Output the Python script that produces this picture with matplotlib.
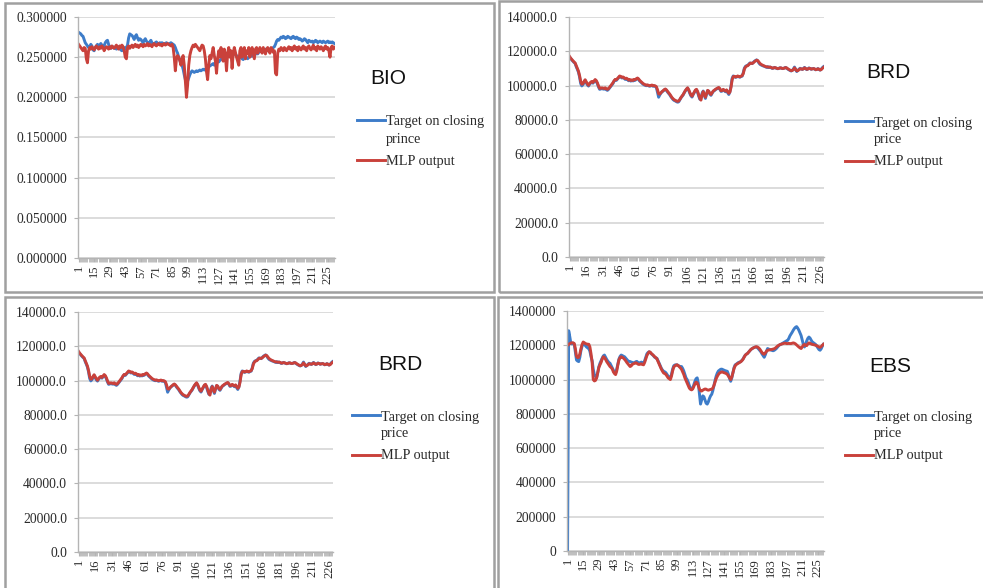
import numpy as np
import matplotlib
matplotlib.use('Agg')
import matplotlib.pyplot as plt
from matplotlib.lines import Line2D
from matplotlib.patches import Rectangle
from matplotlib.ticker import MultipleLocator, FuncFormatter

W, H = 983, 588
BLUE = '#3d7cc9'
RED = '#c9413b'
SERIF = 'Liberation Serif'
SANS = 'Liberation Sans'

# BIO, values in thousandths
bio_target = [
    281, 280, 279, 277, 276, 272, 268, 266, 264, 262,
    263, 266, 264, 259, 258, 262, 264, 266, 263, 265,
    267, 265, 263, 264, 268, 270, 271, 266, 262, 261,
    262, 263, 261, 262, 260, 261, 263, 262, 259, 258,
    261, 262, 260, 262, 265, 274, 279, 278, 277, 275,
    272, 276, 278, 274, 271, 273, 272, 270, 268, 271,
    273, 270, 268, 267, 269, 271, 268, 266, 267, 268,
    269, 267, 266, 268, 267, 268, 267, 266, 267, 268,
    267, 266, 267, 268, 267, 266, 265, 262, 258, 255,
    250, 246, 243, 240, 235, 228, 222, 218, 220, 224,
    228, 231, 233, 232, 231, 232, 233, 232, 233, 234,
    233, 234, 235, 234, 235, 236, 237, 238, 239, 240,
    241, 242, 240, 243, 244, 245, 244, 246, 247, 249,
    250, 252, 251, 253, 255, 254, 256, 255, 257, 256,
    255, 253, 252, 250, 249, 251, 250, 248, 247, 249,
    250, 249, 248, 250, 251, 252, 251, 253, 252, 254,
    255, 254, 256, 257, 258, 257, 259, 258, 260, 259,
    258, 260, 259, 261, 260, 262, 263, 266, 270, 272,
    271, 273, 275, 274, 276, 275, 273, 274, 276, 275,
    274, 273, 275, 276, 274, 273, 275, 274, 272, 273,
    272, 270, 271, 273, 272, 270, 268, 271, 270, 269,
    270, 268, 269, 271, 270, 268, 269, 270, 269, 268,
    270, 269, 268, 269, 270, 268, 269, 268, 269, 268, 267]
bio_mlp = [
    266, 264, 262, 260, 258, 262, 261, 248, 243, 258,
    262, 260, 263, 261, 259, 262, 264, 262, 260, 263,
    261, 264, 262, 258, 261, 263, 262, 260, 263, 261,
    264, 262, 261, 263, 265, 262, 260, 264, 262, 265,
    263, 258, 250, 248, 262, 264, 261, 263, 265, 262,
    264, 266, 263, 265, 262, 264, 266, 265, 263, 266,
    264, 265, 267, 264, 266, 265, 263, 266, 267, 265,
    264, 266, 267, 265, 266, 264, 266, 267, 265, 266,
    267, 266, 265, 264, 266, 262, 250, 233, 248, 252,
    250, 246, 240, 248, 252, 240, 220, 200, 215, 240,
    252, 258, 262, 265, 263, 266, 264, 262, 260, 258,
    262, 265, 264, 258, 248, 232, 222, 240, 252, 248,
    255, 262, 252, 245, 230, 248, 258, 250, 262, 255,
    245, 260, 252, 233, 255, 262, 250, 258, 236, 255,
    262, 256, 250, 245, 240, 258, 262, 250, 255, 262,
    248, 258, 255, 262, 250, 258, 262, 255, 248, 260,
    262, 255, 258, 262, 258, 255, 262, 258, 254, 260,
    262, 258, 255, 262, 260, 256, 258, 230, 228, 255,
    260, 258, 262, 260, 258, 262, 260, 258, 261, 263,
    260, 262, 258, 262, 264, 260, 262, 258, 263, 261,
    259, 262, 264, 260, 262, 258, 262, 264, 261, 259,
    262, 265, 260, 262, 258, 264, 262, 260, 263, 261,
    258, 262, 264, 260, 262, 258, 250, 262, 264, 260, 262]

# BRD, values in thousands
brd_target = [
    116.5, 115.8, 114.9, 114.2, 113.5, 112.9, 111.0, 109.5, 107.8, 105.0,
    101.2, 99.8, 100.5, 101.8, 103.0, 101.6, 100.4, 99.7, 100.8, 101.5,
    102.0, 101.4, 102.2, 103.1, 102.4, 101.0, 99.2, 97.8, 98.0, 98.3,
    98.0, 97.9, 98.4, 97.6, 97.2, 97.8, 98.6, 99.5, 100.4, 101.2,
    102.6, 103.4, 103.0, 103.8, 104.6, 105.3, 105.0, 104.4, 104.8, 104.2,
    103.6, 104.0, 103.5, 102.8, 103.2, 102.6, 103.0, 102.7, 103.3, 103.1,
    103.8, 104.2, 103.5, 102.6, 102.0, 101.4, 100.8, 100.4, 100.1, 99.9,
    100.2, 99.8, 99.6, 99.9, 100.0, 99.6, 99.8, 99.5, 98.8, 96.0,
    93.2, 94.5, 95.6, 96.3, 96.8, 97.4, 97.8, 97.2, 96.2, 95.4,
    94.6, 93.5, 92.6, 91.8, 91.3, 91.0, 90.6, 90.3, 90.5, 91.6,
    92.8, 93.6, 94.5, 95.8, 96.9, 97.8, 98.5, 97.2, 95.4, 94.0,
    93.3, 94.8, 96.0, 97.1, 97.5, 96.0, 93.8, 92.0, 93.0, 95.5,
    96.8, 94.2, 92.5, 95.0, 97.0, 96.5, 95.0, 94.3, 95.5, 96.6,
    97.0, 97.6, 98.0, 98.4, 98.6, 97.8, 96.6, 96.8, 97.5, 97.0,
    96.4, 97.2, 95.8, 94.8, 96.4, 99.8, 104.2, 105.6, 105.2, 104.8,
    105.0, 105.4, 105.1, 104.9, 105.3, 105.5, 107.5, 110.2, 111.2, 111.6,
    111.8, 112.5, 113.2, 113.0, 112.8, 113.5, 114.2, 114.6, 115.0, 114.3,
    113.2, 112.4, 112.0, 111.7, 111.4, 111.2, 110.9, 110.6, 111.0, 110.5,
    110.8, 110.4, 110.0, 110.2, 110.6, 110.3, 110.0, 109.8, 110.1, 110.4,
    110.2, 109.9, 110.0, 110.3, 110.6, 110.1, 109.6, 109.2, 108.8, 108.5,
    108.9, 109.6, 110.8, 109.3, 108.2, 108.8, 109.5, 110.1, 109.7, 109.4,
    109.9, 110.6, 109.8, 109.3, 109.7, 110.3, 109.9, 109.5, 109.8, 110.0,
    109.6, 109.2, 109.5, 109.9, 109.4, 109.0, 109.6, 110.4, 111.0]
brd_mlp = [
    117.0, 116.0, 115.2, 114.5, 113.8, 113.2, 111.6, 110.0, 108.4, 105.8,
    102.4, 100.8, 101.0, 102.4, 103.4, 102.2, 101.0, 100.2, 101.2, 102.0,
    102.4, 101.8, 102.6, 103.5, 102.9, 101.6, 99.8, 98.4, 98.4, 98.7,
    98.5, 98.3, 98.7, 98.1, 97.8, 98.2, 99.0, 99.9, 100.8, 101.7,
    102.8, 103.6, 103.4, 104.1, 104.9, 105.6, 105.3, 104.8, 105.0, 104.6,
    104.0, 104.3, 103.9, 103.2, 103.5, 103.0, 103.3, 103.0, 103.6, 103.4,
    104.0, 104.4, 103.9, 103.0, 102.4, 101.8, 101.2, 100.8, 100.5, 100.2,
    100.4, 100.1, 99.9, 100.1, 100.3, 99.9, 100.0, 99.8, 99.3, 97.5,
    95.2, 95.0, 95.8, 96.5, 97.0, 97.6, 98.0, 97.5, 96.6, 95.8,
    95.0, 94.0, 93.0, 92.3, 91.7, 91.4, 91.0, 90.8, 91.0, 91.9,
    93.0, 93.9, 94.8, 96.0, 97.1, 98.0, 98.7, 97.6, 96.0, 94.5,
    93.8, 95.0, 96.3, 97.4, 97.8, 96.6, 94.5, 92.5, 91.5, 94.6,
    96.5, 94.8, 93.2, 95.2, 97.2, 96.8, 95.4, 94.8, 95.8, 96.8,
    97.3, 97.8, 98.2, 98.6, 98.9, 98.2, 97.0, 97.1, 97.8, 97.3,
    96.8, 97.5, 96.4, 95.5, 96.2, 99.0, 103.4, 105.2, 105.4, 105.0,
    105.2, 105.6, 105.3, 105.1, 105.5, 105.8, 107.0, 109.6, 110.8, 111.4,
    111.6, 112.2, 112.9, 113.1, 112.9, 113.3, 113.9, 114.4, 114.8, 114.6,
    113.8, 112.9, 112.4, 112.0, 111.7, 111.4, 111.1, 110.9, 110.9, 110.7,
    110.8, 110.6, 110.2, 110.2, 110.5, 110.4, 110.1, 109.9, 110.0, 110.3,
    110.3, 110.0, 110.0, 110.2, 110.5, 110.3, 109.8, 109.4, 109.0, 108.7,
    108.8, 109.3, 110.3, 109.6, 108.6, 108.7, 109.2, 109.8, 109.8, 109.5,
    109.7, 110.3, 110.0, 109.5, 109.6, 110.1, 110.0, 109.6, 109.7, 109.9,
    109.8, 109.3, 109.4, 109.8, 109.6, 109.1, 109.3, 110.0, 110.6]

# EBS, values in thousands
ebs_target = [
    0, 1285, 1250, 1210, 1208, 1213, 1205, 1160, 1114, 1108,
    1105, 1130, 1170, 1195, 1210, 1205, 1198, 1190, 1185, 1181,
    1165, 1133, 1110, 1060, 1029, 1018, 1010, 1040, 1075, 1095,
    1110, 1125, 1138, 1143, 1130, 1118, 1108, 1100, 1095, 1082,
    1070, 1055, 1040, 1038, 1060, 1090, 1120, 1135, 1143, 1140,
    1136, 1133, 1125, 1118, 1110, 1106, 1105, 1102, 1100, 1098,
    1099, 1104, 1106, 1100, 1096, 1098, 1102, 1097, 1095, 1110,
    1130, 1150, 1158, 1162, 1157, 1150, 1145, 1138, 1130, 1126,
    1124, 1110, 1095, 1080, 1065, 1055, 1048, 1045, 1040, 1030,
    1020, 1015, 1010, 1030, 1060, 1080, 1085, 1086, 1086, 1082,
    1078, 1076, 1076, 1065, 1050, 1030, 1010, 1000, 985, 965,
    950, 943, 950, 970, 990, 1005, 1010, 980, 920, 857,
    880, 905, 900, 880, 862, 857, 870, 890, 905, 914,
    935, 965, 995, 1020, 1038, 1050, 1055, 1060, 1061, 1058,
    1055, 1052, 1050, 1048, 1030, 1005, 990, 1010, 1040, 1070,
    1086, 1090, 1095, 1100, 1102, 1105, 1112, 1120, 1132, 1142,
    1148, 1152, 1160, 1168, 1175, 1180, 1184, 1188, 1190, 1190,
    1185, 1178, 1170, 1162, 1150, 1140, 1130, 1145, 1165, 1181,
    1178, 1175, 1172, 1170, 1168, 1171, 1176, 1182, 1190, 1198,
    1203, 1206, 1210, 1214, 1218, 1222, 1226, 1229, 1240, 1255,
    1265, 1276, 1288, 1298, 1305, 1309, 1300, 1288, 1272, 1257,
    1230, 1205, 1190, 1205, 1225, 1240, 1248, 1242, 1230, 1220,
    1215, 1210, 1205, 1195, 1185, 1175, 1171, 1180, 1195, 1206]
ebs_mlp = [
    1200, 1205, 1210, 1213, 1215, 1214, 1210, 1180, 1135, 1128,
    1130, 1150, 1180, 1205, 1219, 1215, 1210, 1208, 1206, 1206,
    1190, 1150, 1100, 1000, 992, 995, 1010, 1040, 1070, 1086,
    1100, 1120, 1133, 1128, 1118, 1105, 1095, 1085, 1076, 1070,
    1062, 1045, 1035, 1029, 1050, 1085, 1115, 1128, 1133, 1130,
    1125, 1118, 1110, 1100, 1092, 1085, 1076, 1080, 1090, 1092,
    1095, 1098, 1095, 1090, 1088, 1090, 1092, 1088, 1086, 1100,
    1120, 1140, 1152, 1162, 1160, 1152, 1146, 1140, 1133, 1128,
    1120, 1105, 1090, 1075, 1060, 1048, 1038, 1035, 1030, 1020,
    1010, 1005, 1000, 1020, 1050, 1072, 1080, 1084, 1086, 1082,
    1075, 1068, 1060, 1045, 1030, 1010, 995, 980, 965, 950,
    943, 940, 945, 960, 975, 985, 981, 965, 945, 935,
    933, 938, 942, 945, 944, 940, 938, 940, 943, 943,
    950, 965, 985, 1005, 1019, 1030, 1038, 1042, 1045, 1043,
    1040, 1038, 1035, 1030, 1020, 1010, 1000, 1015, 1040, 1065,
    1080, 1088, 1092, 1096, 1100, 1104, 1110, 1118, 1130, 1142,
    1148, 1152, 1160, 1168, 1175, 1180, 1184, 1187, 1190, 1192,
    1190, 1185, 1178, 1168, 1158, 1150, 1148, 1155, 1165, 1171,
    1172, 1174, 1175, 1176, 1178, 1180, 1184, 1190, 1196, 1200,
    1204, 1206, 1208, 1210, 1212, 1212, 1210, 1210, 1211, 1210,
    1210, 1212, 1214, 1212, 1208, 1202, 1196, 1190, 1185, 1181,
    1190, 1200, 1205, 1200, 1198, 1208, 1214, 1212, 1208, 1205,
    1204, 1202, 1200, 1198, 1194, 1190, 1188, 1192, 1200, 1206]


def fx(px):
    return px / W


def fy(py):
    return 1 - py / H


fig = plt.figure(figsize=(W / 100, H / 100), dpi=100)
fig.patch.set_facecolor('white')


def panel(box, target, mlp, ymax, ystep, yfmt, xstep, title, title_xy, leg_xy, word):
    x0, y0, x1, y1 = box
    ax = fig.add_axes([fx(x0), fy(y1), (x1 - x0) / W, (y1 - y0) / H])
    n = len(target)
    xs = np.arange(1, n + 1)
    ax.plot(xs, target, color=BLUE, lw=2.1, solid_joinstyle='round')
    ax.plot(xs, mlp, color=RED, lw=2.1, solid_joinstyle='round')
    ax.set_xlim(0.5, n + 0.5)
    ax.set_ylim(0, ymax)
    ax.yaxis.set_major_locator(MultipleLocator(ystep))
    ax.yaxis.set_major_formatter(FuncFormatter(lambda v, p: yfmt.format(v)))
    ax.set_xticks(np.arange(1, n + 1, xstep))
    ax.xaxis.set_minor_locator(MultipleLocator(1))
    ax.grid(axis='y', color='#d6d6d6', lw=1.2)
    ax.set_axisbelow(True)
    for s in ['top', 'right']:
        ax.spines[s].set_visible(False)
    for s in ['left', 'bottom']:
        ax.spines[s].set_color('#b4b4b4')
        ax.spines[s].set_linewidth(1.0)
    ax.tick_params(axis='x', which='major', labelrotation=90, labelsize=9,
                   length=3, color='#b4b4b4', pad=2, labelcolor='#2a2a2a')
    ax.tick_params(axis='x', which='minor', length=3, width=0.6, color='#b4b4b4')
    ax.tick_params(axis='y', labelsize=9.8, length=3, color='#b4b4b4', pad=5,
                   labelcolor='#2a2a2a')
    for lab in ax.get_xticklabels() + ax.get_yticklabels():
        lab.set_family(SERIF)

    fig.text(fx(title_xy[0]), fy(title_xy[1]), title, ha='center', va='center',
             family=SANS, size=15, color='#111111')

    lx, ly = leg_xy
    fig.add_artist(Line2D([fx(lx), fx(lx + 28)], [fy(ly), fy(ly)], color=BLUE, lw=2.1,
                          transform=fig.transFigure))
    fig.add_artist(Line2D([fx(lx), fx(lx + 28)], [fy(ly + 40), fy(ly + 40)], color=RED,
                          lw=2.1, transform=fig.transFigure))
    kw = dict(ha='left', va='center', family=SERIF, size=10.3, color='#2a2a2a')
    fig.text(fx(lx + 29), fy(ly + 2), 'Target on closing', **kw)
    fig.text(fx(lx + 29), fy(ly + 19), word, **kw)
    fig.text(fx(lx + 29), fy(ly + 41), 'MLP output', **kw)


panel((78, 17, 335, 258), np.array(bio_target) / 1000, np.array(bio_mlp) / 1000,
      0.3, 0.05, '{:.6f}', 14, 'BIO', (388, 78), (357, 120), 'prince')
panel((569, 17, 824, 257), np.array(brd_target) * 1000, np.array(brd_mlp) * 1000,
      140000, 20000, '{:.1f}', 15, 'BRD', (888, 72), (845, 121), 'price')
panel((78, 312, 333, 552), np.array(brd_target) * 1000, np.array(brd_mlp) * 1000,
      140000, 20000, '{:.1f}', 15, 'BRD', (400, 365), (352, 415), 'price')
panel((567, 311, 824, 551), np.array(ebs_target) * 1000, np.array(ebs_mlp) * 1000,
      1400000, 200000, '{:.0f}', 14, 'EBS', (890, 366), (845, 415), 'price')

# chart area borders
for bx0, by0, bx1, by1 in [(5, 3, 494, 292), (499, 1, 990, 292),
                           (5, 297, 494, 590), (498, 297, 990, 590)]:
    fig.add_artist(Rectangle((fx(bx0), fy(by1)), (bx1 - bx0) / W, (by1 - by0) / H,
                             transform=fig.transFigure, fill=False,
                             ec='#a0a0a0', lw=1.8))

fig.savefig('out.png', dpi=100)
